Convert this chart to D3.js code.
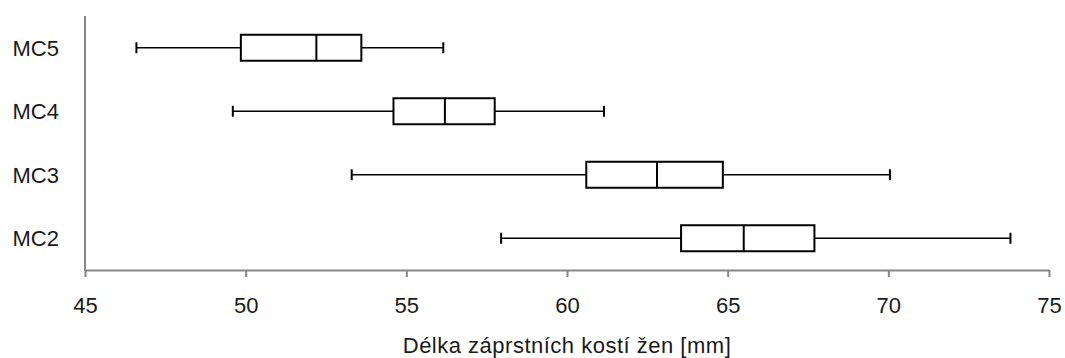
<!DOCTYPE html>
<html>
<head>
<meta charset="utf-8">
<script src="https://cdn.jsdelivr.net/npm/d3@7"></script>
<style>
  html, body { margin: 0; padding: 0; background: #fff; }
  svg { display: block; }
  text { font-family: "Liberation Sans", Arial, sans-serif; fill: #1a1a1a; }
</style>
</head>
<body>
<svg id="chart" width="1065" height="358"></svg>
<script>
// Metacarpal length summaries (mm), top to bottom
const categories = ["MC5", "MC4", "MC3", "MC2"];
const minValues    = [46.6, 49.6, 53.3, 57.95];
const q1Values     = [49.85, 54.6, 60.6, 63.55];
const medianValues = [52.2, 56.2, 62.8, 65.5];
const q3Values     = [53.6, 57.75, 64.85, 67.7];
const maxValues    = [56.15, 61.15, 70.05, 73.8];
const xTicks = [45, 50, 55, 60, 65, 70, 75];
const xDomain = [45, 75];
const xTitle = "Délka záprstních kostí žen [mm]";

const svg = d3.select("#chart");
const margin = { left: 85, right: 16, top: 16, bottom: 88 };
const W = 1065, H = 358;
const fontSize = "22px";

const x = d3.scaleLinear().domain(xDomain).range([margin.left, W - margin.right]);
const y = d3.scaleBand().domain(categories).range([margin.top, H - margin.bottom]).padding(0);

const rows = categories.map((c, i) => ({
  cat: c, min: minValues[i], q1: q1Values[i], med: medianValues[i], q3: q3Values[i], max: maxValues[i]
}));

const axisColor = "#878787";

// x axis
const xAxis = svg.append("g")
  .attr("transform", `translate(0,${H - margin.bottom})`)
  .call(d3.axisBottom(x).tickValues(xTicks).tickSize(7).tickSizeOuter(0).tickPadding(20));
xAxis.select(".domain").attr("stroke", axisColor).attr("stroke-width", 2);
xAxis.selectAll(".tick line").attr("stroke", axisColor).attr("stroke-width", 2);
xAxis.selectAll(".tick text")
  .style("font-size", fontSize)
  .style("font-family", "'Liberation Sans', Arial, sans-serif")
  .attr("fill", "#1a1a1a");

// y axis (line only, labels drawn separately)
svg.append("line")
  .attr("x1", margin.left).attr("x2", margin.left)
  .attr("y1", margin.top).attr("y2", H - margin.bottom + 1)
  .attr("stroke", axisColor).attr("stroke-width", 2);

svg.append("g").selectAll("text")
  .data(categories)
  .join("text")
  .attr("x", 59)
  .attr("y", d => y(d) + y.bandwidth() / 2)
  .attr("dy", "0.36em")
  .attr("text-anchor", "end")
  .style("font-size", fontSize)
  .text(d => d);

// box plots
const boxH = 26, capH = 11;
const g = svg.append("g").selectAll("g").data(rows).join("g")
  .attr("transform", d => `translate(0,${y(d.cat) + y.bandwidth() / 2})`);

g.append("line") // lower whisker
  .attr("x1", d => x(d.min)).attr("x2", d => x(d.q1))
  .attr("stroke", "#000").attr("stroke-width", 1.6);
g.append("line") // upper whisker
  .attr("x1", d => x(d.q3)).attr("x2", d => x(d.max))
  .attr("stroke", "#000").attr("stroke-width", 1.6);
g.append("line") // min cap
  .attr("x1", d => x(d.min)).attr("x2", d => x(d.min))
  .attr("y1", -capH / 2).attr("y2", capH / 2)
  .attr("stroke", "#000").attr("stroke-width", 2);
g.append("line") // max cap
  .attr("x1", d => x(d.max)).attr("x2", d => x(d.max))
  .attr("y1", -capH / 2).attr("y2", capH / 2)
  .attr("stroke", "#000").attr("stroke-width", 2);
g.append("rect")
  .attr("x", d => x(d.q1)).attr("width", d => x(d.q3) - x(d.q1))
  .attr("y", -boxH / 2).attr("height", boxH)
  .attr("fill", "#fff").attr("stroke", "#000").attr("stroke-width", 2);
g.append("line") // median
  .attr("x1", d => x(d.med)).attr("x2", d => x(d.med))
  .attr("y1", -boxH / 2).attr("y2", boxH / 2)
  .attr("stroke", "#000").attr("stroke-width", 2);

// axis title
svg.append("text")
  .attr("x", (x(xDomain[0]) + x(xDomain[1])) / 2)
  .attr("y", 353)
  .attr("text-anchor", "middle")
  .style("font-size", fontSize)
  .attr("letter-spacing", "0.5px")
  .text(xTitle);
</script>
</body>
</html>
